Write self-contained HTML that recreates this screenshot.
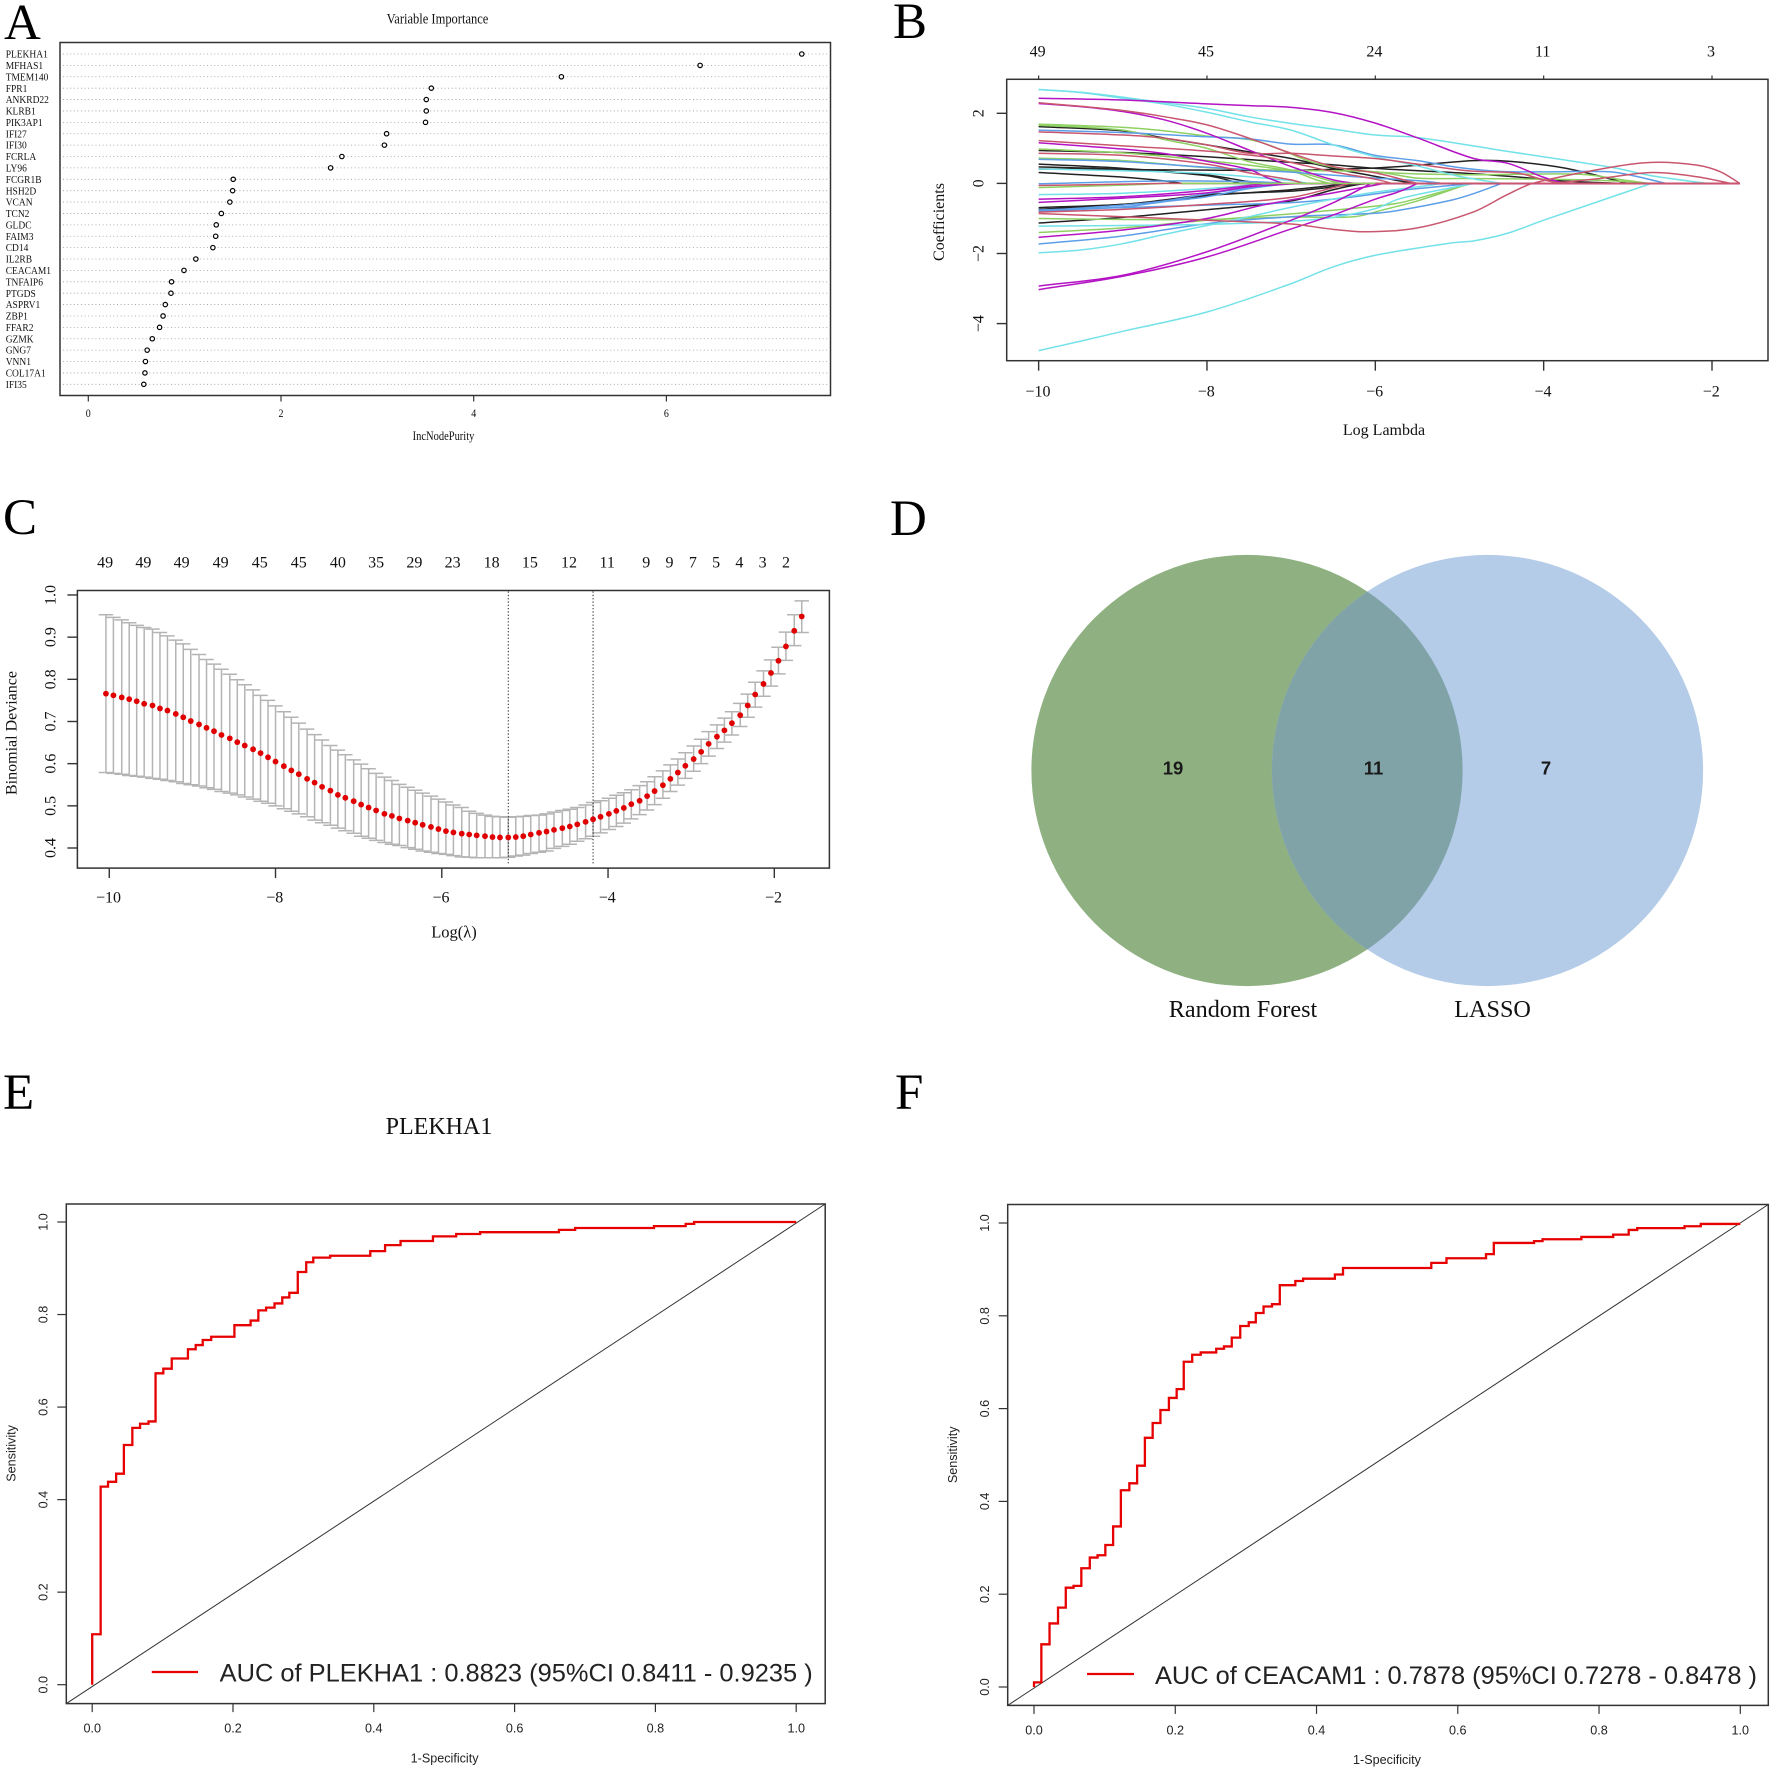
<!DOCTYPE html>
<html lang="en">
<head>
<meta charset="utf-8">
<title>Variable selection figure: random forest, LASSO, Venn and ROC panels</title>
<style>
html,body{margin:0;padding:0;background:#fff}
svg{display:block}
.serif{font-family:"Liberation Serif",serif;fill:#111}
.sans{font-family:"Liberation Sans",sans-serif;fill:#222}
.frame{fill:none;stroke:#333;stroke-width:1.5}
.letter{font-family:"Liberation Serif",serif;font-size:51px;fill:#000}
</style>
</head>
<body>
<svg id="fig" xmlns="http://www.w3.org/2000/svg" width="1772" height="1772" viewBox="0 0 1772 1772">
<rect width="1772" height="1772" fill="#fff"/>
<text class="letter" x="4" y="39">A</text>
<text class="letter" x="893" y="38">B</text>
<text class="letter" x="3" y="534">C</text>
<text class="letter" x="890" y="535">D</text>
<text class="letter" x="3" y="1109">E</text>
<text class="letter" x="895" y="1109">F</text>

<g id="panelA">
<text class="serif" text-anchor="middle" font-size="12.5" transform="translate(437.5,23.5) scale(1,1.15)">Variable Importance</text>
<text class="serif" text-anchor="middle" font-size="10.5" transform="translate(443.5,440) scale(1,1.15)">IncNodePurity</text>
<rect class="frame" x="60" y="42.5" width="770.5" height="353"/>
</g>

<g id="panelB">
<text class="serif" text-anchor="middle" font-size="16" x="1384" y="435">Log Lambda</text>
<text class="serif" text-anchor="middle" font-size="16" transform="rotate(-90 944 222)" x="944" y="222">Coefficients</text>
<rect class="frame" x="1006.7" y="79.3" width="761.3" height="281.4"/>
</g>

<g id="panelC">
<text class="serif" text-anchor="middle" font-size="16.5" x="454" y="937.5">Log(λ)</text>
<text class="serif" text-anchor="middle" font-size="16" transform="rotate(-90 16.5 733)" x="16.5" y="733">Binomial Deviance</text>
<rect class="frame" x="77.4" y="590.5" width="752" height="277.6"/>
</g>

<g id="panelD">
<defs><clipPath id="greenClip"><circle cx="1247" cy="770.5" r="215.6"/></clipPath></defs>
<circle cx="1247" cy="770.5" r="215.6" fill="#8fb182"/>
<circle cx="1487.5" cy="770.5" r="215.6" fill="#b4cce8"/>
<circle cx="1487.5" cy="770.5" r="215.6" fill="#80a3a8" clip-path="url(#greenClip)"/>
<text class="sans" text-anchor="middle" font-size="18.5" font-weight="700" x="1173" y="774.5" style="fill:#1a1a1a">19</text>
<text class="sans" text-anchor="middle" font-size="18.5" font-weight="700" x="1373.5" y="774.5" style="fill:#1a1a1a">11</text>
<text class="sans" text-anchor="middle" font-size="18.5" font-weight="700" x="1546" y="774.5" style="fill:#1a1a1a">7</text>
<text class="serif" text-anchor="middle" font-size="24.2" x="1243" y="1017">Random Forest</text>
<text class="serif" text-anchor="middle" font-size="24.2" x="1492.6" y="1017">LASSO</text>
</g>

<g id="panelE">
<text class="serif" text-anchor="middle" font-size="24" x="439" y="1134">PLEKHA1</text>
<text class="sans" text-anchor="middle" font-size="12.6" x="444.6" y="1762.5">1-Specificity</text>
<text class="sans" text-anchor="middle" font-size="12.6" transform="rotate(-90 15.5 1453.4)" x="15.5" y="1453.4">Sensitivity</text>
<rect class="frame" x="66.3" y="1204" width="758.9" height="499.6"/>
<line x1="151.8" y1="1672" x2="198" y2="1672" stroke="#e60000" stroke-width="2.2"/>
<text class="sans" font-size="25" x="219.7" y="1681.5" textLength="593" lengthAdjust="spacingAndGlyphs">AUC of PLEKHA1 : 0.8823 (95%CI 0.8411 - 0.9235 )</text>
</g>

<g id="panelF">
<text class="sans" text-anchor="middle" font-size="12.6" x="1387" y="1764">1-Specificity</text>
<text class="sans" text-anchor="middle" font-size="12.6" transform="rotate(-90 957 1454.8)" x="957" y="1454.8">Sensitivity</text>
<rect class="frame" x="1007.7" y="1204.5" width="760.6" height="500.9"/>
<line x1="1087" y1="1674" x2="1134" y2="1674" stroke="#e60000" stroke-width="2.2"/>
<text class="sans" font-size="25" x="1155" y="1684" textLength="602" lengthAdjust="spacingAndGlyphs">AUC of CEACAM1 : 0.7878 (95%CI 0.7278 - 0.8478 )</text>
</g>
</svg>

<script>
/* ---------- Panel A data ---------- */
const geneNames = ["PLEKHA1","MFHAS1","TMEM140","FPR1","ANKRD22","KLRB1","PIK3AP1","IFI27","IFI30","FCRLA","LY96","FCGR1B","HSH2D","VCAN","TCN2","GLDC","FAIM3","CD14","IL2RB","CEACAM1","TNFAIP6","PTGDS","ASPRV1","ZBP1","FFAR2","GZMK","GNG7","VNN1","COL17A1","IFI35"];
const geneImportance = [7.405,6.35,4.91,3.56,3.508,3.508,3.5,3.096,3.073,2.632,2.515,1.504,1.498,1.469,1.381,1.328,1.322,1.293,1.116,0.993,0.864,0.858,0.799,0.776,0.74,0.664,0.611,0.593,0.588,0.576];
const importanceTicks = [0,2,4,6];

/* ---------- Panel B data: curves are [logLambda, coefficient] knots ---------- */
const coefTopTicks = [-10,-8,-6,-4,-2];
const coefTopLabels = ["49","45","24","11","3"];
const coefXTicks = [-10,-8,-6,-4,-2];
const coefYTicks = [-4,-2,0,2];
const coefBlack = [
 [[-10,1.62],[-9,1.5],[-8.5,1.29],[-8,1.1],[-7.5,.9],[-7,.71],[-6.5,.43],[-6,.2],[-5.55,0]],
 [[-10,.41],[-8,.38],[-7,.37],[-6.3,.42],[-6,.44],[-5.6,.5],[-4.83,.65],[-4.4,.63],[-3.73,.43],[-3,0]],
 [[-10,.94],[-9,.88],[-8,.76],[-7,.6],[-6.5,.53],[-6,.43],[-5,.3],[-4.4,.2],[-3.7,.06],[-3.1,0]],
 [[-10,.55],[-9,.43],[-8,.24],[-7.5,.05],[-7.3,0]],
 [[-10,.47],[-9,.4],[-8,.22],[-7.6,0]],
 [[-10,.31],[-9,.18],[-8.5,.07],[-8.3,0]],
 [[-10,-.69],[-9,-.6],[-8.5,-.47],[-8,-.32],[-7,-.22],[-6.5,-.1],[-6.2,0]],
 [[-10,-.74],[-9,-.6],[-8.5,-.5],[-8,-.35],[-7,-.18],[-6.3,0]],
 [[-10,-1.13],[-9,-.97],[-8,-.75],[-7,-.5],[-6.5,-.18],[-6.2,-.03],[-6,0]]
];
const coefGreen = [
 [[-10,1.69],[-9,1.6],[-8.5,1.5],[-8,1.35],[-7.4,1.2],[-6.7,.57],[-6,.33],[-5,.25],[-4,.27],[-3.5,.25],[-3,.08],[-2.75,0]],
 [[-10,1.66],[-9,1.52],[-8.5,1.25],[-8,1],[-7.5,.62],[-7,.38],[-6.5,.05],[-6.4,0]],
 [[-10,.98],[-9,.87],[-8,.65],[-7,.35],[-6.7,.1],[-6.55,0]],
 [[-10,.72],[-9,.65],[-8,.45],[-7,.37],[-6,.33],[-5.5,.15],[-5,.14],[-4,.12],[-3.5,.1],[-3,.05],[-2.75,0]],
 [[-10,-.12],[-9,-.05],[-8.5,0]],
 [[-10,-1],[-9,-1.03],[-8,-1.03],[-7,-.96],[-6.25,-.95],[-5.9,-.75],[-5.5,-.5],[-5,-.1],[-4.9,0]],
 [[-10,-1.4],[-9,-1.27],[-8,-1.05],[-7,-.87],[-6,-.65],[-5.7,-.55],[-5.3,-.3],[-4.85,0]]
];
const coefBlue = [
 [[-10,1.52],[-9,1.45],[-8,1.33],[-7.5,1.27],[-7,1.12],[-6.5,1.1],[-6,.8],[-5.5,.65],[-5,.45],[-4.5,.34],[-4,.33],[-3.2,.33],[-2.9,.2],[-2.55,0]],
 [[-10,.69],[-9,.62],[-8,.46],[-7,.32],[-6,.15],[-5.5,.08],[-5.2,0]],
 [[-10,-.01],[-8.5,.07],[-7.5,.05],[-7,0]],
 [[-10,-.78],[-9,-.62],[-8.5,-.5],[-8,-.3],[-7.3,-.05],[-7.1,0]],
 [[-10,-.8],[-9,-.67],[-8.5,-.52],[-8,-.38],[-7.5,-.15],[-7,0]],
 [[-10,-.76],[-8,-.62],[-7,-.55],[-6.5,-.45],[-6,-.3],[-5.7,-.2],[-5.5,-.15],[-4.85,0]],
 [[-10,-1.73],[-9,-1.5],[-8,-1.15],[-7,-.95],[-6,-.85],[-5.7,-.76],[-5.1,-.48],[-4.83,-.29],[-4.5,0]]
];
const coefCyan = [
 [[-10,2.68],[-9.5,2.6],[-9,2.46],[-8.5,2.3],[-8,2.14],[-7.5,1.9],[-7,1.71],[-6.5,1.55],[-6,1.38],[-5.5,1.31],[-4.45,.92],[-3.2,.46],[-2.7,.21],[-2.05,0]],
 [[-10,2.68],[-9.5,2.59],[-9,2.43],[-8.5,2.26],[-8,2.03],[-7.5,1.76],[-7,1.52],[-6.5,1.1],[-6,.76],[-5.5,.5],[-5,.2],[-4.5,0]],
 [[-10,.41],[-9,.36],[-8,.28],[-7,.08],[-6.8,0]],
 [[-10,-.32],[-9,-.28],[-8,-.15],[-7.5,-.05],[-7.2,0]],
 [[-10,-1.22],[-9,-1.2],[-8,-1.17],[-7,-1.08],[-6.5,-.97],[-6,-.72],[-5.7,-.43],[-4.83,0]],
 [[-10,-1.98],[-9.5,-1.9],[-9,-1.72],[-8.5,-1.45],[-8,-1.2],[-7.5,-.95],[-7,-.68],[-6.5,-.45],[-6,-.25],[-5.5,-.1],[-5.2,0]],
 [[-10,-4.77],[-9.5,-4.5],[-9,-4.22],[-8,-3.67],[-7,-2.86],[-6.5,-2.38],[-6,-2.05],[-5.1,-1.7],[-4.83,-1.64],[-4.44,-1.43],[-4,-1.05],[-2.72,0]]
];
const coefMagenta = [
 [[-10,2.43],[-9,2.38],[-8,2.27],[-7.5,2.22],[-7,2.17],[-6.5,2.02],[-6,1.72],[-5.5,1.3],[-4.83,.71],[-4.42,.57],[-4.02,.19],[-3.76,0]],
 [[-10,2.28],[-9.5,2.19],[-9,2.05],[-8.5,1.81],[-8,1.43],[-7.5,.95],[-7,.48],[-6.5,.1],[-6.25,0]],
 [[-10,1.16],[-9,.98],[-8.5,.85],[-8,.63],[-7.5,.4],[-7.3,.18],[-7.1,0]],
 [[-10,-.45],[-9,-.38],[-8,-.2],[-7.3,0]],
 [[-10,-.54],[-9,-.42],[-8,-.27],[-7.5,-.1],[-6.9,0]],
 [[-10,-1.54],[-9,-1.33],[-8,-1],[-7.3,-.6],[-6.5,-.27],[-6,-.05],[-5.9,0]],
 [[-10,-2.93],[-9,-2.62],[-8,-1.95],[-7,-1.05],[-6.5,-.55],[-6.05,0]],
 [[-10,-3.03],[-9,-2.65],[-8,-2.1],[-7,-1.3],[-6.5,-.9],[-6,-.45],[-5.7,-.22],[-5.5,0]]
];
const coefRed = [
 [[-10,2.3],[-9.5,2.2],[-9,2.08],[-8.5,1.9],[-8,1.67],[-7.5,1.29],[-7,.86],[-6.5,.48],[-6,.3],[-5.5,0]],
 [[-10,1.47],[-9,1.38],[-8.5,1.29],[-8,1.1],[-7.5,.86],[-7,.86],[-6.5,.78],[-6,.71],[-5.5,.55],[-4.9,.36],[-4.3,.29],[-4,.1],[-3.8,0]],
 [[-10,1.22],[-9,1.07],[-8,.92],[-7.3,.75],[-7,.6],[-6.5,.33],[-6,.12],[-5.8,0]],
 [[-10,.86],[-9,.8],[-8,.55],[-7.5,.3],[-7,.1],[-6.85,0]],
 [[-10,-.82],[-9,-.74],[-8,-.6],[-7,-.4],[-6.5,-.12],[-6.3,0]],
 [[-10,-.06],[-9,-.02],[-8.5,0]],
 [[-3.9,0],[-3.33,.14],[-2.7,.31],[-2.18,.19],[-1.78,0]],
 [[-10,-.86],[-9,-.95],[-8,-1.05],[-7,-1.16],[-6.5,-1.31],[-6.1,-1.38],[-5.5,-1.27],[-4.83,-.81],[-4.44,-.33],[-4.13,0],[-3.2,.46],[-2.7,.6],[-2.18,.52],[-1.9,.33],[-1.67,0]]
];
const coefZeroGreenRun = [[-8.3,0],[-6,0]];

/* ---------- Panel C data ---------- */
const cvLogLambda = [-10.04,-9.95,-9.85,-9.76,-9.67,-9.58,-9.48,-9.39,-9.30,-9.20,-9.11,-9.02,-8.92,-8.83,-8.74,-8.65,-8.55,-8.46,-8.37,-8.27,-8.18,-8.09,-8.00,-7.90,-7.81,-7.72,-7.62,-7.53,-7.44,-7.34,-7.25,-7.16,-7.06,-6.97,-6.88,-6.79,-6.69,-6.60,-6.51,-6.41,-6.32,-6.23,-6.13,-6.04,-5.95,-5.86,-5.76,-5.67,-5.58,-5.48,-5.39,-5.30,-5.20,-5.11,-5.02,-4.93,-4.83,-4.74,-4.65,-4.55,-4.46,-4.37,-4.27,-4.18,-4.09,-3.99,-3.90,-3.81,-3.72,-3.62,-3.53,-3.44,-3.34,-3.25,-3.16,-3.07,-2.97,-2.88,-2.79,-2.69,-2.60,-2.51,-2.41,-2.32,-2.23,-2.13,-2.04,-1.95,-1.86,-1.76,-1.67];
const cvMean = [.766,.762,.757,.753,.748,.742,.738,.731,.726,.718,.710,.701,.693,.685,.677,.668,.660,.651,.643,.634,.625,.615,.605,.594,.584,.575,.564,.555,.545,.536,.526,.519,.511,.503,.496,.489,.481,.476,.470,.465,.460,.455,.450,.445,.440,.437,.434,.432,.430,.428,.426,.425,.425,.426,.428,.432,.436,.439,.443,.447,.451,.456,.462,.468,.474,.481,.488,.495,.504,.512,.523,.535,.549,.564,.579,.595,.611,.628,.647,.664,.679,.696,.715,.738,.764,.789,.815,.844,.878,.915,.949];
const cvUpper = [.953,.947,.941,.934,.928,.923,.919,.911,.903,.893,.884,.871,.859,.847,.836,.824,.812,.799,.787,.775,.762,.750,.737,.723,.710,.696,.682,.669,.656,.643,.632,.621,.609,.599,.588,.577,.568,.560,.551,.544,.537,.530,.523,.516,.509,.502,.496,.487,.482,.478,.475,.474,.473,.474,.475,.477,.478,.481,.485,.489,.492,.496,.502,.508,.512,.518,.525,.531,.538,.548,.557,.569,.583,.597,.611,.626,.642,.658,.676,.692,.708,.723,.743,.765,.793,.820,.846,.876,.912,.953,.986];
const cvLower = [.579,.577,.575,.572,.570,.568,.565,.563,.560,.557,.553,.550,.547,.543,.539,.534,.530,.526,.521,.516,.511,.506,.500,.493,.487,.481,.474,.466,.460,.454,.447,.441,.435,.428,.423,.418,.413,.409,.406,.401,.397,.393,.390,.387,.385,.382,.379,.378,.377,.377,.377,.377,.378,.381,.383,.387,.390,.393,.399,.404,.409,.416,.422,.428,.436,.444,.451,.459,.469,.479,.490,.503,.518,.534,.549,.565,.582,.600,.618,.636,.651,.668,.688,.710,.734,.760,.784,.813,.845,.880,.911];
const cvTopPositions = [-10.05,-9.59,-9.13,-8.66,-8.19,-7.72,-7.25,-6.79,-6.33,-5.87,-5.40,-4.94,-4.47,-4.01,-3.54,-3.26,-2.98,-2.70,-2.42,-2.14,-1.86];
const cvTopLabels = ["49","49","49","49","45","45","40","35","29","23","18","15","12","11","9","9","7","5","4","3","2"];
const cvXTicks = [-10,-8,-6,-4,-2];
const cvYTicks = [0.4,0.5,0.6,0.7,0.8,0.9,1.0];
const cvSelectedLambdas = [-5.2,-4.18];

/* ---------- Panels E and F data ---------- */
const rocTicks = [0,0.2,0.4,0.6,0.8,1];
const plekhaFpr = [0,.012,.0225,.034,.045,.057,.068,.08,.09,.101,.113,.136,.147,.157,.169,.202,.225,.236,.247,.259,.27,.28,.292,.304,.314,.338,.395,.416,.438,.484,.517,.551,.663,.686,.798,.843,.855,1];
const plekhaTpr = [.109,.428,.4385,.456,.518,.555,.564,.569,.673,.683,.705,.725,.734,.745,.752,.777,.787,.809,.815,.824,.837,.847,.892,.913,.923,.927,.937,.95,.959,.969,.974,.978,.983,.987,.991,.996,1,1];
const ceacamFpr = [0,.0104,.022,.034,.045,.056,.067,.079,.09,.101,.112,.123,.135,.146,.157,.168,.179,.191,.202,.212,.224,.236,.258,.269,.28,.292,.304,.314,.325,.337,.348,.37,.381,.426,.4375,.5625,.584,.64,.651,.708,.72,.775,.82,.842,.854,.921,.944,1];
const ceacamTpr = [.01,.092,.137,.171,.214,.218,.256,.279,.284,.306,.346,.424,.439,.477,.537,.569,.597,.623,.642,.701,.716,.721,.729,.734,.753,.778,.786,.806,.82,.825,.866,.875,.88,.889,.903,.914,.924,.933,.957,.961,.965,.97,.975,.985,.989,.993,.998,.998];

/* ---------- Helpers ---------- */
const NS = 'http://www.w3.org/2000/svg';
function makeShape(parent, tag, attrs, name) {
  const el = document.createElementNS(NS, tag);
  for (const k in attrs) el.setAttribute(k, attrs[k]);
  
  
  parent.appendChild(el);
  return el;
}
function makeText(parent, str, cfg, name) {
  const el = document.createElementNS(NS, 'text');
  el.setAttribute('class', cfg.cls || 'serif');
  el.setAttribute('font-size', cfg.size);
  el.setAttribute('text-anchor', cfg.anchor || 'middle');
  if (cfg.transform) {
    el.setAttribute('transform', cfg.transform);
  } else {
    el.setAttribute('x', cfg.x);
    el.setAttribute('y', cfg.y);
    if (cfg.rotate) el.setAttribute('transform', 'rotate(-90 ' + cfg.x + ' ' + cfg.y + ')');
  }
  el.textContent = str;
  
  
  parent.appendChild(el);
  return el;
}
function fmt(v) { return String(v).replace('-', '\u2212'); }

/* ---------- Panel A ---------- */
(function () {
  const g = document.getElementById('panelA');
  const xA = v => 88.3 + 96.35 * v;
  const yA = i => 54 + 11.39 * i;
  importanceTicks.forEach(t => {
    makeShape(g, 'line', {x1: xA(t), x2: xA(t), y1: 395.5, y2: 401.5, stroke: '#333', 'stroke-width': 1.2}, 'panel-a-x-tick');
    makeText(g, String(t), {size: 10, transform: 'translate(' + xA(t) + ',417) scale(1,1.15)'}, 'panel-a-x-tick-label');
  });
  geneNames.forEach((name, i) => {
    makeShape(g, 'line', {x1: 63, x2: 829.5, y1: yA(i), y2: yA(i), stroke: '#999', 'stroke-width': 0.8, 'stroke-dasharray': '1 2.6'}, 'importance-guide-line');
    makeText(g, name, {size: 9.5, anchor: 'start', transform: 'translate(5.7,' + (yA(i) + 3.6) + ') scale(1,1.15)'}, 'gene-label');
    makeShape(g, 'circle', {cx: xA(geneImportance[i]), cy: yA(i), r: 2.2, fill: '#fff', stroke: '#000', 'stroke-width': 1.2}, 'importance-point');
  });
})();

/* ---------- Panel B ---------- */
(function () {
  const g = document.getElementById('panelB');
  const xB = v => 1712 + (v + 2) * 84.17;
  const yB = v => 183.4 - 35.05 * v;
  const endLambda = -1.67;
  coefTopTicks.forEach((t, i) => {
    makeShape(g, 'line', {x1: xB(t), x2: xB(t), y1: 79.3, y2: 75.5, stroke: '#333', 'stroke-width': 1.2}, 'panel-b-top-tick');
    makeText(g, coefTopLabels[i], {size: 16, x: xB(t) - 1, y: 56.5}, 'panel-b-top-label');
  });
  coefXTicks.forEach(t => {
    makeShape(g, 'line', {x1: xB(t), x2: xB(t), y1: 360.7, y2: 370.7, stroke: '#333', 'stroke-width': 1.4}, 'panel-b-x-tick');
    makeText(g, fmt(t), {size: 16, x: xB(t) - 0.7, y: 396.5}, 'panel-b-x-tick-label');
  });
  coefYTicks.forEach(t => {
    makeShape(g, 'line', {x1: 996.7, x2: 1006.7, y1: yB(t), y2: yB(t), stroke: '#333', 'stroke-width': 1.4}, 'panel-b-y-tick');
    makeText(g, fmt(t), {size: 16, x: 983.5, y: yB(t), rotate: true}, 'panel-b-y-tick-label');
  });
  function curvePath(knots) {
    const p = knots.map(k => [xB(k[0]), yB(k[1])]);
    let d = 'M' + p[0][0].toFixed(2) + ' ' + p[0][1].toFixed(2);
    for (let i = 0; i < p.length - 1; i++) {
      const a = p[Math.max(i - 1, 0)], b = p[i], c = p[i + 1], e = p[Math.min(i + 2, p.length - 1)];
      const lastStep = i === p.length - 2;
      const h = (c[0] - b[0]) / 3;
      const s1 = (c[1] - a[1]) / (c[0] - a[0]);
      const s2 = lastStep ? (c[1] - b[1]) / (c[0] - b[0]) : (e[1] - b[1]) / (e[0] - b[0]);
      d += 'C' + (b[0] + h).toFixed(2) + ' ' + (b[1] + s1 * h).toFixed(2) + ' ' + (c[0] - h).toFixed(2) + ' ' + (c[1] - s2 * h).toFixed(2) + ' ' + c[0].toFixed(2) + ' ' + c[1].toFixed(2);
    }
    d += 'L' + xB(endLambda).toFixed(2) + ' ' + yB(0).toFixed(2);
    return d;
  }
  function drawGroup(curves, color, name) {
    curves.forEach(knots => {
      makeShape(g, 'path', {d: curvePath(knots), fill: 'none', stroke: color, 'stroke-width': 1.5}, name);
    });
  }
  drawGroup(coefBlack, '#222222', 'coefficient-path-black');
  drawGroup(coefGreen, '#8ed062', 'coefficient-path-green');
  drawGroup(coefBlue, '#5c9ee8', 'coefficient-path-blue');
  drawGroup(coefCyan, '#72e2e8', 'coefficient-path-cyan');
  drawGroup(coefMagenta, '#b414c4', 'coefficient-path-magenta');
  drawGroup(coefRed, '#c8566e', 'coefficient-path-red');
  makeShape(g, 'line', {x1: xB(coefZeroGreenRun[0][0]), x2: xB(coefZeroGreenRun[1][0]), y1: yB(coefZeroGreenRun[0][1]), y2: yB(coefZeroGreenRun[1][1]), stroke: '#8ed062', 'stroke-width': 1.5}, 'coefficient-zero-run');
})();

/* ---------- Panel C ---------- */
(function () {
  const g = document.getElementById('panelC');
  const xC = v => 774.3 + (v + 2) * 83.13;
  const yC = v => 848 - (v - 0.4) * 421.7;
  cvTopPositions.forEach((p, i) => {
    makeText(g, cvTopLabels[i], {size: 16, x: xC(p), y: 567.5}, 'panel-c-top-label');
  });
  cvXTicks.forEach(t => {
    makeShape(g, 'line', {x1: xC(t), x2: xC(t), y1: 868, y2: 878, stroke: '#333', 'stroke-width': 1.4}, 'panel-c-x-tick');
    makeText(g, fmt(t), {size: 16, x: xC(t) - 0.8, y: 902.5}, 'panel-c-x-tick-label');
  });
  cvYTicks.forEach(t => {
    makeShape(g, 'line', {x1: 67.4, x2: 77.4, y1: yC(t), y2: yC(t), stroke: '#333', 'stroke-width': 1.4}, 'panel-c-y-tick');
    makeText(g, t.toFixed(1), {size: 16, x: 55.5, y: yC(t), rotate: true}, 'panel-c-y-tick-label');
  });
  cvLogLambda.forEach((l, i) => {
    const x = xC(l), up = yC(cvUpper[i]), lo = yC(cvLower[i]);
    const d = 'M' + x + ' ' + up + 'V' + lo + 'M' + (x - 7.2) + ' ' + up + 'H' + (x + 7.2) + 'M' + (x - 7.2) + ' ' + lo + 'H' + (x + 7.2);
    makeShape(g, 'path', {d: d, fill: 'none', stroke: '#b4b4b4', 'stroke-width': 1.5}, 'deviance-error-bar');
  });
  cvSelectedLambdas.forEach(l => {
    makeShape(g, 'line', {x1: xC(l), x2: xC(l), y1: 591.5, y2: 865, stroke: '#222', 'stroke-width': 1, 'stroke-dasharray': '1.3 2'}, 'selected-lambda-line');
  });
  cvLogLambda.forEach((l, i) => {
    makeShape(g, 'circle', {cx: xC(l), cy: yC(cvMean[i]), r: 2.9, fill: '#e00000'}, 'deviance-point');
  });
})();

/* ---------- Panels E and F ---------- */
function drawRoc(g, fpr, tpr, ax, prefix) {
  const x = ax.x, y = ax.y;
  rocTicks.forEach(t => {
    makeShape(g, 'line', {x1: x(t), x2: x(t), y1: ax.bottom, y2: ax.bottom + 8.5, stroke: '#333', 'stroke-width': 1.2}, prefix + '-x-tick');
    makeText(g, t.toFixed(1), {cls: 'sans', size: 12.6, x: x(t), y: ax.xLabelY}, prefix + '-x-tick-label');
    makeShape(g, 'line', {x1: ax.left - 9, x2: ax.left, y1: y(t), y2: y(t), stroke: '#333', 'stroke-width': 1.2}, prefix + '-y-tick');
    makeText(g, t.toFixed(1), {cls: 'sans', size: 12.6, x: ax.yLabelX, y: y(t), rotate: true}, prefix + '-y-tick-label');
  });
  makeShape(g, 'line', {x1: ax.left, y1: ax.bottom, x2: ax.right, y2: ax.top, stroke: '#333', 'stroke-width': 1}, prefix + '-reference-diagonal');
  let d = 'M' + x(0) + ' ' + y(0);
  let prev = 0;
  fpr.forEach((f, i) => {
    d += 'L' + x(f).toFixed(2) + ' ' + y(prev).toFixed(2) + 'L' + x(f).toFixed(2) + ' ' + y(tpr[i]).toFixed(2);
    prev = tpr[i];
  });
  makeShape(g, 'path', {d: d, fill: 'none', stroke: '#e60000', 'stroke-width': 2.3}, prefix + '-roc-curve');
}
drawRoc(document.getElementById('panelE'), plekhaFpr, plekhaTpr, {
  x: v => 92.2 + 704 * v, y: v => 1684.7 - 462.7 * v,
  left: 66.3, right: 825.2, top: 1204, bottom: 1703.6, xLabelY: 1732.5, yLabelX: 47.5
}, 'panel-e');
drawRoc(document.getElementById('panelF'), ceacamFpr, ceacamTpr, {
  x: v => 1034 + 706.3 * v, y: v => 1687 - 464 * v,
  left: 1007.7, right: 1768.3, top: 1204.5, bottom: 1705.4, xLabelY: 1734.5, yLabelX: 989
}, 'panel-f');
</script>
</body>
</html>
